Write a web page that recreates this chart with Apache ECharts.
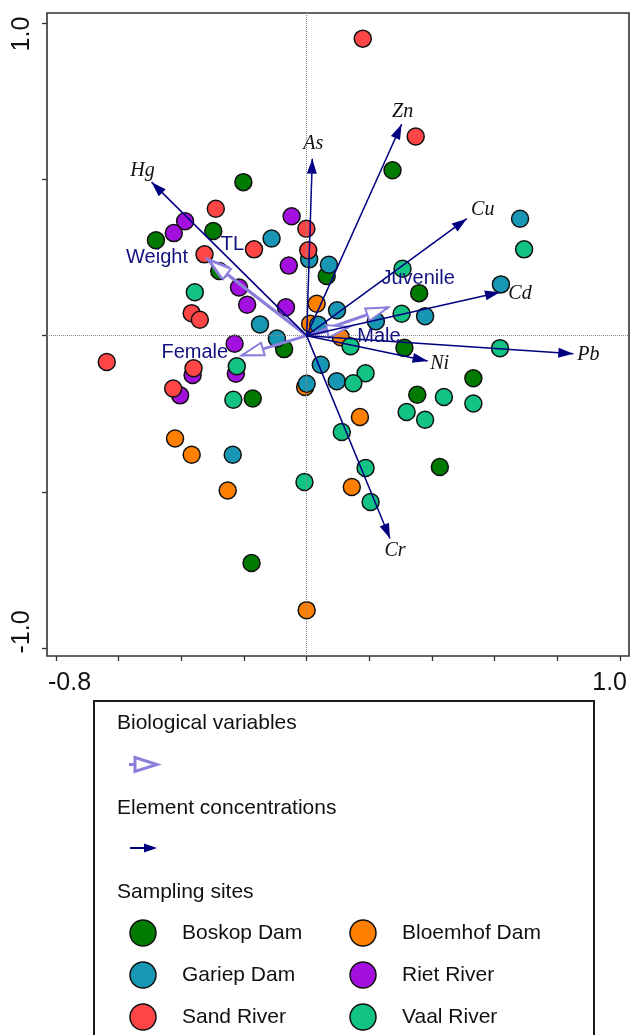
<!DOCTYPE html>
<html>
<head>
<meta charset="utf-8">
<script src="https://cdn.jsdelivr.net/npm/echarts@6/dist/echarts.min.js"></script>
<style>
  html, body { margin: 0; padding: 0; background: #fff; }
  #chart { width: 630px; height: 1035px; }
</style>
</head>
<body>
<div id="chart"></div>
<script>
// sample scores [axis 1, axis 2] per sampling site
var boskopDam = [[-0.202, 0.491], [-0.298, 0.335], [-0.481, 0.305], [-0.279, 0.207], [0.064, 0.191],
  [0.274, 0.529], [0.359, 0.136], [-0.072, -0.043], [0.312, -0.039], [0.532, -0.136],
  [0.353, -0.189], [-0.172, -0.201], [0.425, -0.420], [-0.176, -0.727]];
var bloemhofDam = [[0.032, 0.102], [0.011, 0.038], [0.109, -0.005], [-0.005, -0.164], [0.170, -0.260],
  [-0.420, -0.329], [-0.367, -0.381], [-0.252, -0.495], [0.144, -0.484], [0.0, -0.878]];
var gariepDam = [[-0.112, 0.311], [0.008, 0.244], [0.071, 0.227], [0.681, 0.374], [0.620, 0.164],
  [0.097, 0.081], [0.221, 0.046], [0.378, 0.062], [0.037, 0.035], [-0.149, 0.036],
  [-0.095, -0.009], [0.045, -0.093], [0.0, -0.154], [0.096, -0.146], [-0.236, -0.381]];
var rietRiver = [[-0.048, 0.382], [-0.388, 0.366], [-0.424, 0.328], [-0.057, 0.224], [-0.216, 0.154],
  [-0.190, 0.099], [-0.066, 0.091], [-0.230, -0.026], [-0.364, -0.126], [-0.226, -0.122],
  [-0.404, -0.191]];
var sandRiver = [[0.179, 0.950], [0.348, 0.637], [-0.290, 0.406], [-0.001, 0.342], [-0.168, 0.276],
  [-0.326, 0.260], [0.005, 0.273], [-0.367, 0.072], [-0.341, 0.051], [-0.638, -0.084],
  [-0.361, -0.104], [-0.426, -0.169]];
var vaalRiver = [[0.694, 0.276], [0.306, 0.214], [-0.357, 0.139], [0.303, 0.070], [0.140, -0.034],
  [0.617, -0.040], [-0.223, -0.098], [-0.234, -0.205], [0.188, -0.120], [0.149, -0.152],
  [0.438, -0.196], [0.532, -0.217], [0.319, -0.244], [0.378, -0.269], [0.112, -0.308],
  [0.188, -0.423], [-0.007, -0.468], [0.204, -0.532]];

// element concentration vectors (arrow tips)
var elementNames = ['Hg', 'As', 'Zn', 'Cu', 'Cd', 'Pb', 'Ni', 'Cr'];
var elementX = [-0.495, 0.018, 0.303, 0.511, 0.617, 0.851, 0.386, 0.266];
var elementY = [0.491, 0.566, 0.676, 0.374, 0.139, -0.058, -0.081, -0.649];

// biological variable vectors
var bioNames = ['Weight', 'TL', 'Juvenile', 'Male', 'Female'];
var bioX = [-0.318, -0.310, 0.260, 0.135, -0.207];
var bioY = [0.246, 0.240, 0.090, 0.028, -0.063];

// axis ticks and labels
var xTicks = [-0.8, -0.6, -0.4, -0.2, 0, 0.2, 0.4, 0.6, 0.8, 1.0];
var yTicks = [-1.0, -0.5, 0, 0.5, 1.0];
var xTickLabels = ['-0.8', '1.0'];
var yTickLabels = ['-1.0', '1.0'];

var siteNames = ['Boskop Dam', 'Bloemhof Dam', 'Gariep Dam', 'Riet River', 'Sand River', 'Vaal River'];
var siteData = [boskopDam, bloemhofDam, gariepDam, rietRiver, sandRiver, vaalRiver];
var siteColors = ['#007a00', '#ff8000', '#1797b3', '#a30fdf', '#ff4646', '#13c384'];

// label placement relative to vector tips (px)
var elementLabelOffset = { Hg: [-9, -11], As: [1, -15], Zn: [1, -13], Cu: [16, -9], Cd: [20, 2], Pb: [15, 1], Ni: [12, 3], Cr: [5, 12] };
var bioLabelOffset = { Weight: [-50, -1], TL: [23, -16], Juvenile: [30, -29], Male: [30, 10], Female: [-47, -3] };

var NAVY = '#000080';
var BIO = '#8a7fdb';
var SANS = '"Liberation Sans", Arial, sans-serif';

function tipItems(names, xs, ys, offsets) {
  return names.map(function (n, i) {
    return { name: n, value: [xs[i], ys[i]], label: { offset: offsets[n] } };
  });
}
// one segment per vector, arrow head on the tip end
function vectorLines(xs, ys, head, headSize) {
  return xs.map(function (x, i) {
    return [
      { coord: [0, 0], symbol: 'none' },
      { coord: [x, ys[i]], symbol: head, symbolSize: headSize, symbolOffset: [0, headSize[1] / 2] }
    ];
  });
}

var series = siteNames.map(function (name, i) {
  return {
    name: name,
    type: 'scatter',
    z: 2,
    symbol: 'circle',
    symbolSize: 17,
    data: siteData[i],
    itemStyle: { color: siteColors[i], borderColor: '#111', borderWidth: 1.5, opacity: 1 }
  };
});

// dotted zero lines
series.unshift({
  name: 'zero',
  type: 'scatter',
  z: 1,
  data: [],
  markLine: {
    silent: true,
    animation: false,
    symbol: 'none',
    label: { show: false },
    lineStyle: { color: '#8a8a8a', width: 1, type: 'dotted' },
    data: [{ xAxis: 0 }, { yAxis: 0 }]
  }
});

series.push({
  name: 'Biological variables',
  type: 'scatter',
  z: 5,
  silent: true,
  symbolSize: 0.1,
  itemStyle: { color: BIO, opacity: 1 },
  data: tipItems(bioNames, bioX, bioY, bioLabelOffset),
  label: { show: true, position: 'inside', formatter: '{b}', fontFamily: SANS, fontSize: 20, color: '#12127f', opacity: 1 },
  markLine: {
    silent: true,
    animation: false,
    symbol: ['none', 'emptyTriangle'],
    symbolSize: [13, 22],
    label: { show: false },
    itemStyle: { color: BIO },
    lineStyle: { color: BIO, width: 3, type: 'solid', opacity: 1 },
    data: vectorLines(bioX, bioY, 'emptyTriangle', [13, 22])
  }
});

series.push({
  name: 'Element concentrations',
  type: 'scatter',
  z: 6,
  silent: true,
  symbolSize: 0.1,
  itemStyle: { color: NAVY, opacity: 1 },
  data: tipItems(elementNames, elementX, elementY, elementLabelOffset),
  label: { show: true, position: 'inside', formatter: '{b}', fontFamily: '"Liberation Serif", "Times New Roman", serif', fontStyle: 'italic', fontSize: 20, color: '#111', opacity: 1 },
  markLine: {
    silent: true,
    animation: false,
    symbol: ['none', 'triangle'],
    symbolSize: [10, 15],
    label: { show: false },
    itemStyle: { color: NAVY },
    lineStyle: { color: NAVY, width: 1.5, type: 'solid', opacity: 1 },
    data: vectorLines(elementX, elementY, 'triangle', [10, 15])
  }
});

function axisText(text, x, y, align, rot) {
  return {
    type: 'text', x: x, y: y, rotation: rot || 0, silent: true,
    style: { text: text, font: '25px ' + SANS, fill: '#111', align: align, textAlign: align, verticalAlign: 'middle', textVerticalAlign: 'middle' }
  };
}
function legendText(text, x, y) {
  return {
    type: 'text', x: x, y: y, silent: true,
    style: { text: text, font: '21px ' + SANS, fill: '#111', align: 'left', textAlign: 'left', verticalAlign: 'middle', textVerticalAlign: 'middle' }
  };
}

var graphics = [
  axisText(xTickLabels[0], 48, 683, 'left'),
  axisText(xTickLabels[1], 627, 683, 'right'),
  axisText(yTickLabels[1], 22.5, 34, 'center', Math.PI / 2),
  axisText(yTickLabels[0], 22.5, 632, 'center', Math.PI / 2),
  { type: 'rect', silent: true, shape: { x: 94, y: 701, width: 500, height: 400 }, style: { fill: 'none', stroke: '#1a1a1a', lineWidth: 2 } },
  legendText('Biological variables', 117, 723),
  { type: 'polyline', silent: true, shape: { points: [[129, 764.5], [135, 764.5]] }, style: { stroke: BIO, lineWidth: 3, fill: 'none' } },
  { type: 'polygon', silent: true, shape: { points: [[135, 757.5], [157, 764.5], [135, 771.5]] }, style: { stroke: BIO, lineWidth: 3, fill: 'none' } },
  legendText('Element concentrations', 117, 808),
  { type: 'polyline', silent: true, shape: { points: [[130, 848], [148, 848]] }, style: { stroke: NAVY, lineWidth: 2, fill: 'none' } },
  { type: 'polygon', silent: true, shape: { points: [[144, 843.5], [157, 848], [144, 852.5]] }, style: { fill: NAVY } },
  legendText('Sampling sites', 117, 892)
];
// sampling site keys, two columns
siteNames.forEach(function (name, i) {
  var cx = i % 2 === 0 ? 143 : 363;
  var cy = 933 + Math.floor(i / 2) * 42;
  graphics.push({ type: 'circle', silent: true, shape: { cx: cx, cy: cy, r: 13 }, style: { fill: siteColors[i], stroke: '#111', lineWidth: 1.5 } });
  graphics.push(legendText(name, cx + 39, cy));
});

var chart = echarts.init(document.getElementById('chart'));
chart.setOption({
  animation: false,
  backgroundColor: '#fff',
  grid: { left: 47, right: 1, top: 13, bottom: 379, show: true, borderColor: '#333', borderWidth: 1.6, backgroundColor: 'transparent' },
  xAxis: {
    type: 'value', min: -0.8287, max: 1.0287,
    axisLine: { show: false, onZero: false },
    splitLine: { show: false },
    axisTick: { show: true, inside: false, length: 5, customValues: xTicks, lineStyle: { color: '#333', width: 1.3 } },
    axisLabel: { show: false }
  },
  yAxis: {
    type: 'value', min: -1.0246, max: 1.032,
    axisLine: { show: false, onZero: false },
    splitLine: { show: false },
    axisTick: { show: true, inside: false, length: 5, customValues: yTicks, lineStyle: { color: '#333', width: 1.3 } },
    axisLabel: { show: false }
  },
  graphic: graphics,
  series: series
});
</script>
</body>
</html>
